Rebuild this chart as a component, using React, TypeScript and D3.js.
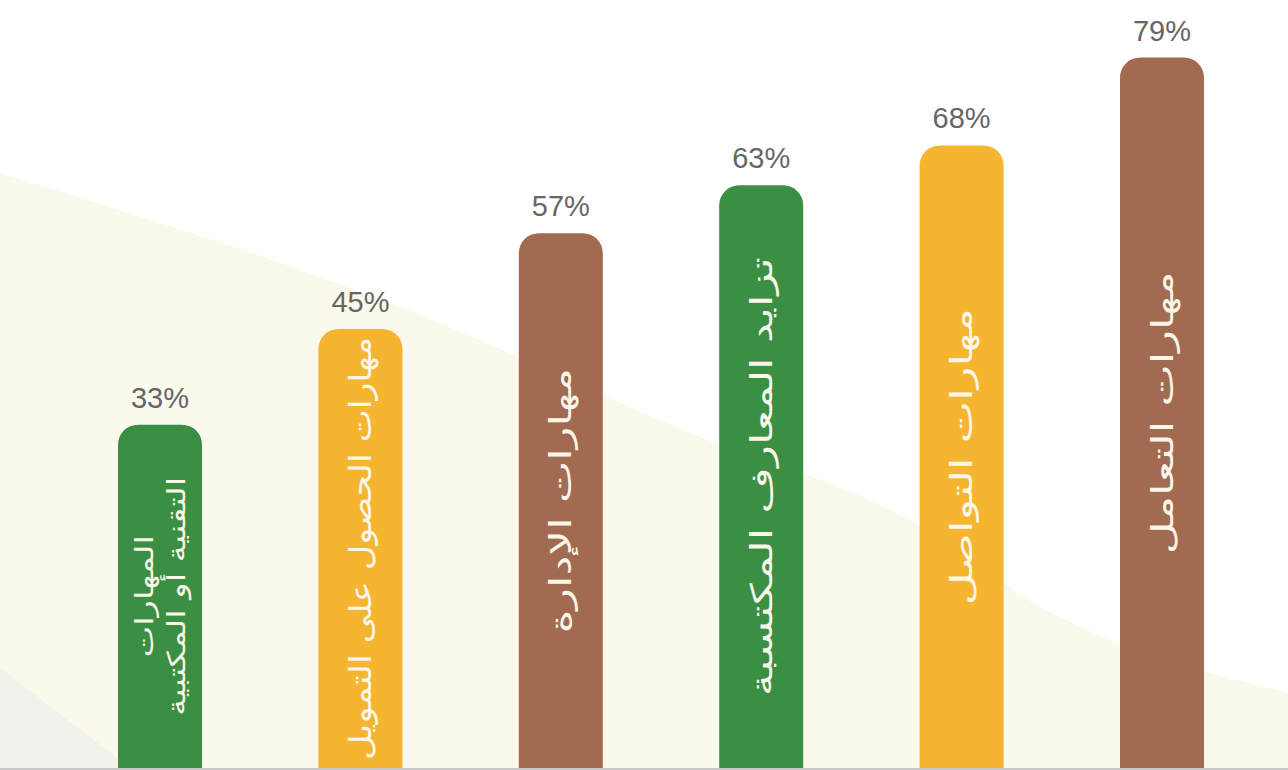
import React, { useEffect, useRef } from 'react';
import * as d3 from 'd3';

// البيانات
const categories = [
  ['المهارات', 'التقنية أو المكتبية'],
  ['مهارات الحصول على التمويل'],
  ['مهارات الإدارة'],
  ['تزايد المعارف المكتسبة'],
  ['مهارات التواصل'],
  ['مهارات التعامل'],
];
const values = [33, 45, 57, 63, 68, 79];
const colors = ['#3b8f43', '#f5b530', '#a36a52', '#3b8f43', '#f5b530', '#a36a52'];

// الخلفية: حدود الشريط الكريمي
const creamEdge: [number, number][] = [
  [0, 173], [400, 307], [700, 437], [900, 515], [1050, 612], [1288, 693],
];
const greyEdge: [number, number][] = [[0, 668], [130, 768]];

const App: React.FC = () => {
  const svgRef = useRef<SVGSVGElement | null>(null);

  useEffect(() => {
    if (!svgRef.current) return;
    const svg = d3.select(svgRef.current);
    svg.selectAll('*').remove();
    const width = 1288;
    const height = 770;
    const base = 768;

    const x = d3.scalePoint<number>()
      .domain(d3.range(values.length))
      .range([160, 1162]);
    const y = d3.scaleLinear().domain([0, 79]).range([688, 57.6]);
    const barW = 84;
    const r = 20;

    svg.append('rect').attr('width', width).attr('height', height).attr('fill', '#ffffff');

    const area = d3.area<[number, number]>()
      .x(d => d[0]).y0(base).y1(d => d[1])
      .curve(d3.curveMonotoneX);
    svg.append('path').datum(creamEdge).attr('d', area).attr('fill', '#fbf8ec');
    svg.append('path').datum(greyEdge).attr('d', area).attr('fill', '#f0f3ec');

    const barPath = (i: number) => {
      const cx = x(i) as number;
      const x0 = cx - barW / 2;
      const x1 = cx + barW / 2;
      const t = y(values[i]);
      const p = d3.path();
      p.moveTo(x0, base);
      p.lineTo(x0, t + r);
      p.arcTo(x0, t, x0 + r, t, r);
      p.lineTo(x1 - r, t);
      p.arcTo(x1, t, x1, t + r, r);
      p.lineTo(x1, base);
      p.closePath();
      return p.toString();
    };

    const g = svg.append('g');
    g.selectAll('path.bar')
      .data(values)
      .join('path')
      .attr('class', 'bar')
      .attr('d', (_, i) => barPath(i))
      .attr('fill', (_, i) => colors[i]);

    g.selectAll('text.val')
      .data(values)
      .join('text')
      .attr('class', 'val')
      .attr('x', (_, i) => x(i) as number)
      .attr('y', d => y(d) - 17)
      .attr('text-anchor', 'middle')
      .attr('font-family', '"Liberation Sans", Arial, sans-serif')
      .attr('font-size', 29)
      .attr('fill', '#666666')
      .text(d => `${d}%`);

    // أسماء الفئات داخل الأعمدة، مدوّرة ومتمركزة
    categories.forEach((lines, i) => {
      const top = y(values[i]);
      const cy = (top + base) / 2;
      const n = lines.length;
      const lab = g.append('g')
        .attr('transform', `translate(${x(i)},${cy}) rotate(-90)`);
      const inner = lab.append('g');
      let maxLen = 0;
      lines.forEach((line, k) => {
        const t = inner.append('text')
          .attr('x', 0)
          .attr('y', (k - (n - 1) / 2) * 32)
          .attr('dy', '0.35em')
          .attr('text-anchor', 'middle')
          .attr('direction', 'rtl')
          .attr('font-family', '"DejaVu Sans", "Noto Sans", sans-serif')
          .attr('font-size', n > 1 ? 25 : 30)
          .attr('fill', '#fbf6e8')
          .text(line);
        maxLen = Math.max(maxLen, (t.node() as SVGTextElement).getComputedTextLength());
      });
      const want = n > 1 ? 1.35 : 1.5;
      const room = (base - top) - 16;
      const s = Math.min(want, room / maxLen);
      inner.attr('transform', `scale(${s},1)`);
    });

    svg.append('line')
      .attr('x1', 0).attr('x2', width)
      .attr('y1', base + 1).attr('y2', base + 1)
      .attr('stroke', '#c8c8c8')
      .attr('stroke-width', 2);
  }, []);

  return (
    <svg
      ref={svgRef}
      width={1288}
      height={770}
      viewBox="0 0 1288 770"
      style={{ position: 'fixed', left: 0, top: 0 }}
    />
  );
};

export default App;
